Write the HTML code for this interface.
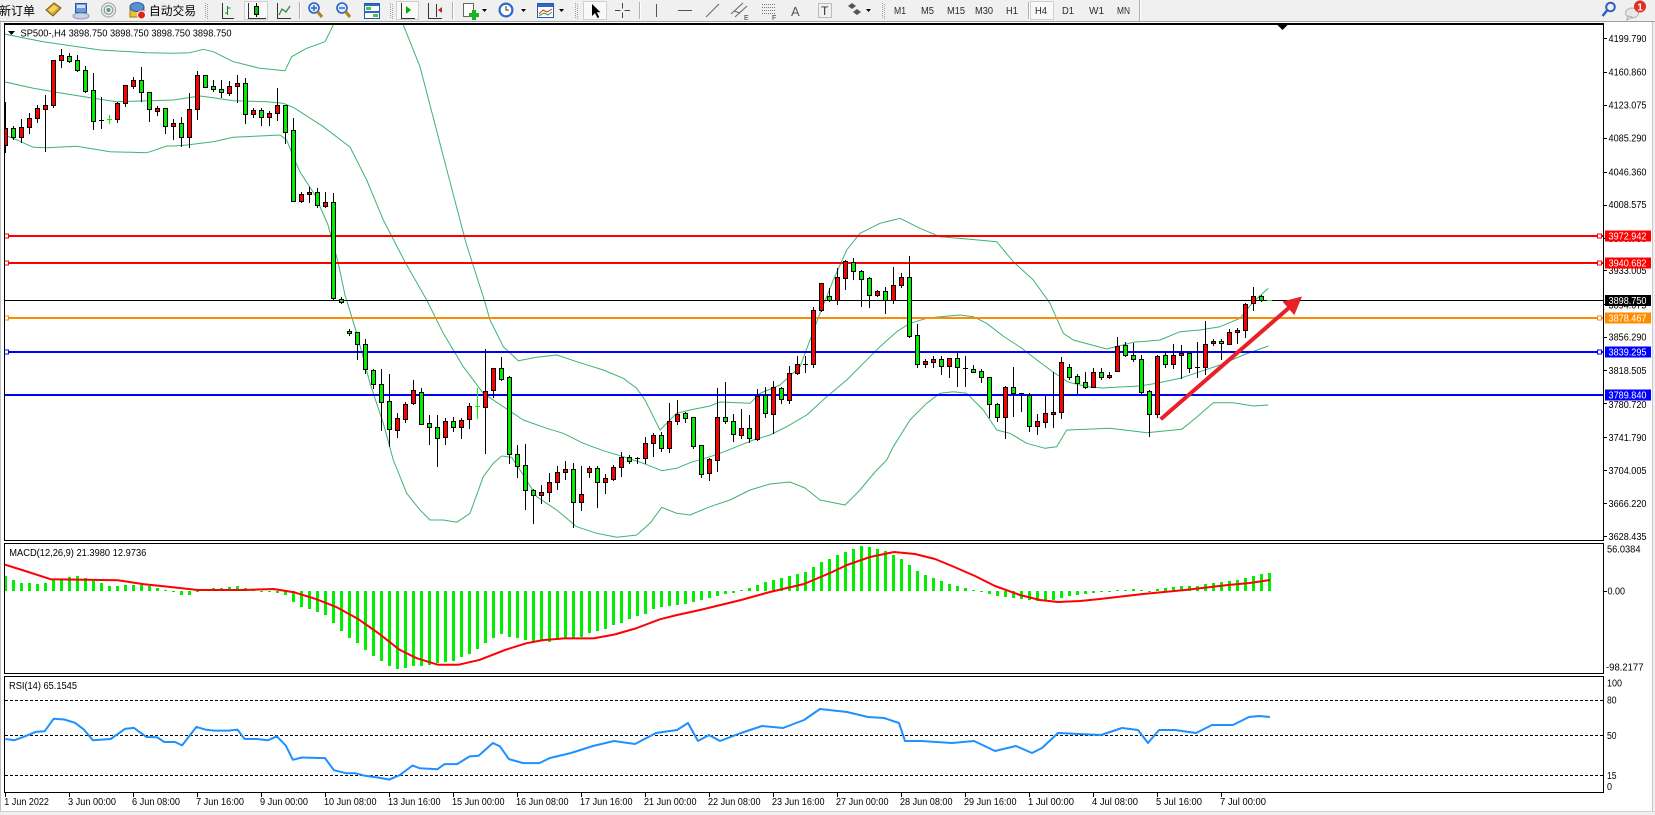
<!DOCTYPE html>
<html><head><meta charset="utf-8">
<style>
html,body{margin:0;padding:0;background:#fff;}
body{width:1655px;height:815px;overflow:hidden;position:relative;font-family:"Liberation Sans","Noto Sans CJK SC",sans-serif;}
svg{position:absolute;left:0;top:0;}
</style></head><body>
<svg id="c" width="1655" height="815" viewBox="0 0 1655 815" xmlns="http://www.w3.org/2000/svg" font-family="Liberation Sans, Noto Sans CJK SC, sans-serif">
<defs>
<clipPath id="cm"><rect x="5" y="25" width="1598" height="515"/></clipPath>
<clipPath id="cd"><rect x="5" y="544" width="1598" height="129"/></clipPath>
<clipPath id="cr"><rect x="5" y="677" width="1598" height="115"/></clipPath>
</defs>
<rect x="0" y="0" width="1655" height="815" fill="#fff"/>

<!-- ============ TOOLBAR ============ -->
<g shape-rendering="crispEdges">
<rect x="0" y="0" width="1655" height="21" fill="#f0f0f0"/>
<rect x="0" y="21" width="1655" height="1" fill="#a0a0a0"/>
</g>
<text x="-1" y="15" font-size="12" fill="#000" font-family="Liberation Sans, Noto Sans CJK SC, sans-serif">新订单</text>
<!-- gold book -->
<polygon points="46,10 54,3 61,8 53,16" fill="#d9a520" stroke="#7a5a10" stroke-width="1"/>
<polygon points="48,10 54,5 58,8 52,13" fill="#f3d36a"/>
<!-- blue people -->
<rect x="75.5" y="3.5" width="11" height="9" fill="#6b9be0" stroke="#2a5a9a"/>
<rect x="77" y="5" width="8" height="3" fill="#cfe0f8"/>
<ellipse cx="81" cy="16" rx="8" ry="3" fill="#c8d4e4" stroke="#8a9ab0"/>
<!-- radio -->
<circle cx="108.5" cy="10" r="7" fill="none" stroke="#a8b0b0" stroke-width="1.3"/>
<circle cx="108.5" cy="10" r="4.3" fill="none" stroke="#90a0a0" stroke-width="1.3"/>
<circle cx="108.5" cy="10" r="2" fill="#5a9a7a"/>
<!-- auto trade -->
<rect x="130" y="8" width="14" height="9" fill="#f0c030" stroke="#a07a10"/>
<ellipse cx="137" cy="7" rx="7" ry="4.5" fill="#5a8fd0" stroke="#2a5a9a"/>
<circle cx="141.5" cy="15" r="4" fill="#e02020" stroke="#fff" stroke-width="1"/>
<text x="149" y="15" font-size="12" fill="#000" textLength="47" lengthAdjust="spacingAndGlyphs">自动交易</text>
<g shape-rendering="crispEdges" stroke="#a0a0a0" stroke-dasharray="1,1">
<line x1="205.5" y1="3" x2="205.5" y2="19"/><line x1="207.5" y1="4" x2="207.5" y2="19"/>
<line x1="390.5" y1="3" x2="390.5" y2="19"/><line x1="392.5" y1="4" x2="392.5" y2="19"/>
<line x1="575.5" y1="3" x2="575.5" y2="19"/><line x1="577.5" y1="4" x2="577.5" y2="19"/>
<line x1="882.5" y1="3" x2="882.5" y2="19"/><line x1="884.5" y1="4" x2="884.5" y2="19"/>
</g>
<g shape-rendering="crispEdges">
<line x1="299.5" y1="2" x2="299.5" y2="19" stroke="#b0b0b0"/><line x1="300.5" y1="2" x2="300.5" y2="19" stroke="#fff"/>
<line x1="452.5" y1="2" x2="452.5" y2="19" stroke="#b0b0b0"/><line x1="453.5" y1="2" x2="453.5" y2="19" stroke="#fff"/>
<line x1="639.5" y1="2" x2="639.5" y2="19" stroke="#b0b0b0"/><line x1="640.5" y1="2" x2="640.5" y2="19" stroke="#fff"/>
<line x1="1028.5" y1="2" x2="1028.5" y2="19" stroke="#b0b0b0"/><line x1="1029.5" y1="2" x2="1029.5" y2="19" stroke="#fff"/>
<line x1="1139.5" y1="0" x2="1139.5" y2="21" stroke="#b0b0b0"/><line x1="1140.5" y1="0" x2="1140.5" y2="21" stroke="#fff"/>
<!-- pressed boxes -->
<rect x="244.5" y="1.5" width="23" height="18" fill="#f9f9f9" stroke="#d0d0d0"/>
<rect x="396.5" y="1.5" width="22" height="18" fill="#f9f9f9" stroke="#d0d0d0"/>
<rect x="583.5" y="1.5" width="23" height="18" fill="#f9f9f9" stroke="#d0d0d0"/>
<rect x="1030.5" y="1.5" width="23" height="18" fill="#f9f9f9" stroke="#d0d0d0"/>
<!-- bar chart icon -->
<path d="M222.5 3V18.5H234" fill="none" stroke="#333"/>
<path d="M227.5 6V15M225 13h2.5M228 8h2.5" fill="none" stroke="#109010"/>
<!-- candle icon -->
<path d="M248.5 3V18.5H266" fill="none" stroke="#333"/>
<line x1="256.5" y1="3" x2="256.5" y2="17" stroke="#000"/>
<rect x="254.5" y="6.5" width="4" height="8" fill="#00c000" stroke="#000"/>
<!-- line icon -->
<path d="M277.5 3V18.5H291" fill="none" stroke="#333"/>
</g>
<polyline points="279,15 282,9 286,12 290,6" fill="none" stroke="#2a8a2a" stroke-width="1.2"/>
<!-- zoom in/out -->
<circle cx="314" cy="8" r="5" fill="#d8ecff" stroke="#2a60c0" stroke-width="1.6"/>
<line x1="317.5" y1="11.5" x2="322" y2="17" stroke="#b08020" stroke-width="3"/>
<path d="M311 8h6M314 5v6" stroke="#2a60c0" stroke-width="1.4"/>
<circle cx="342" cy="8" r="5" fill="#d8ecff" stroke="#2a60c0" stroke-width="1.6"/>
<line x1="345.5" y1="11.5" x2="350" y2="17" stroke="#b08020" stroke-width="3"/>
<path d="M339 8h6" stroke="#2a60c0" stroke-width="1.4"/>
<!-- tile -->
<g shape-rendering="crispEdges">
<rect x="364.5" y="3.5" width="15" height="15" fill="#fff" stroke="#2a5aa8"/>
<rect x="365" y="4" width="7" height="2" fill="#2a6ac8"/><rect x="372" y="4" width="7" height="2" fill="#2a6ac8"/>
<rect x="365" y="11" width="7" height="2" fill="#2a6ac8"/><rect x="372" y="11" width="7" height="2" fill="#2a6ac8"/>
<rect x="366" y="7" width="5" height="3" fill="#50c050"/><rect x="373" y="14" width="5" height="3" fill="#50c050"/>
<!-- shift icons -->
<path d="M401.5 3V18.5H415" fill="none" stroke="#333"/>
<path d="M428.5 3V18.5H442" fill="none" stroke="#333"/>
<line x1="436.5" y1="4" x2="436.5" y2="17" stroke="#333"/>
</g>
<polygon points="406,6 406,14 411,10" fill="#00b000"/>
<polygon points="438,10 442,7 442,13" fill="#d02020"/>
<!-- new chart -->
<rect x="463.5" y="3.5" width="10" height="13" fill="#fff" stroke="#666"/>
<rect x="469" y="13" width="10" height="4" fill="#20b020"/><rect x="472" y="10" width="4" height="10" fill="#20b020"/>
<polygon points="482,9 487,9 484.5,12" fill="#000"/>
<!-- clock -->
<circle cx="506" cy="10" r="7.5" fill="#2a6ac8"/><circle cx="506" cy="10" r="5.3" fill="#fff"/>
<path d="M506 6v4h3" stroke="#333" fill="none"/>
<polygon points="521,9 526,9 523.5,12" fill="#000"/>
<!-- chart window -->
<rect x="537.5" y="3.5" width="16" height="14" fill="#fff" stroke="#2a5aa8"/>
<rect x="538" y="4" width="15" height="3" fill="#2a6ac8"/>
<polyline points="539,14 543,10 547,12 552,9" fill="none" stroke="#d03030"/>
<polyline points="539,16 544,13 548,15 552,12" fill="none" stroke="#30a030"/>
<polygon points="559,9 564,9 561.5,12" fill="#000"/>
<!-- cursor -->
<polygon points="592,4 592,16 595,13 597.5,18 599.3,17.2 596.8,12.3 600.5,12.3" fill="#000"/>
<!-- crosshair -->
<path d="M622.5 3V8.5M622.5 12.5V18M615 10.5h5.5M624.5 10.5H630" stroke="#444" shape-rendering="crispEdges"/>
<path d="M656.5 4V17M678 10.5H692" stroke="#555" shape-rendering="crispEdges"/>
<line x1="706" y1="17" x2="719" y2="4" stroke="#666"/>
<line x1="731" y1="14" x2="743" y2="3" stroke="#666"/><line x1="735" y1="17" x2="747" y2="6" stroke="#666"/>
<line x1="734" y1="11" x2="740" y2="13" stroke="#666"/>
<text x="744" y="20" font-size="7" fill="#333">E</text>
<path d="M762 4.5h14M762 7.5h14M762 10.5h14M762 13.5h14" stroke="#777" stroke-dasharray="1,1" shape-rendering="crispEdges"/>
<text x="772" y="20" font-size="7" fill="#333">F</text>
<text x="791" y="16" font-size="13" fill="#555">A</text>
<rect x="818.5" y="3.5" width="13" height="14" fill="none" stroke="#888" stroke-dasharray="1,1" shape-rendering="crispEdges"/>
<text x="821" y="15" font-size="12" fill="#333">T</text>
<polygon points="848,6 852,3 856,6 852,9" fill="#555"/><polygon points="853,12 857,9 861,12 857,15" fill="#555"/>
<polygon points="866,9 871,9 868.5,12" fill="#000"/>
<g font-size="10" fill="#2a2a2a">
<text x="894" y="14" textLength="12" lengthAdjust="spacingAndGlyphs">M1</text>
<text x="921" y="14" textLength="13" lengthAdjust="spacingAndGlyphs">M5</text>
<text x="947" y="14" textLength="18" lengthAdjust="spacingAndGlyphs">M15</text>
<text x="975" y="14" textLength="18" lengthAdjust="spacingAndGlyphs">M30</text>
<text x="1006" y="14" textLength="12" lengthAdjust="spacingAndGlyphs">H1</text>
<text x="1035" y="14" textLength="12" lengthAdjust="spacingAndGlyphs">H4</text>
<text x="1062" y="14" textLength="12" lengthAdjust="spacingAndGlyphs">D1</text>
<text x="1089" y="14" textLength="15" lengthAdjust="spacingAndGlyphs">W1</text>
<text x="1117" y="14" textLength="13" lengthAdjust="spacingAndGlyphs">MN</text>
</g>
<!-- search -->
<circle cx="1610.5" cy="7" r="4.3" fill="none" stroke="#2a60c8" stroke-width="2"/>
<line x1="1607" y1="10.5" x2="1602.5" y2="16" stroke="#2a60c8" stroke-width="2.5"/>
<!-- chat -->
<ellipse cx="1632" cy="13" rx="6.5" ry="5" fill="#e8e8e8" stroke="#b0b0b0"/>
<polygon points="1628,16 1627,20 1632,17" fill="#e8e8e8" stroke="#b0b0b0"/>
<circle cx="1640" cy="6.5" r="6" fill="#e03020"/>
<text x="1637.3" y="10.5" font-size="10" font-weight="bold" fill="#fff">1</text>

<!-- ============ WINDOW FRAME ============ -->
<g shape-rendering="crispEdges">
<rect x="0" y="22" width="1" height="793" fill="#c0c0c0"/>
<rect x="1652" y="22" width="3" height="793" fill="#f0f0f0"/>
<rect x="1652" y="22" width="1" height="793" fill="#c8c8c8"/>
<rect x="0" y="811" width="1655" height="4" fill="#f0f0f0"/>
<rect x="0" y="811" width="1655" height="1" fill="#d0d0d0"/>
</g>

<!-- ============ MAIN CHART ============ -->
<g clip-path="url(#cm)">
<g fill="none" stroke="#3cb371" stroke-width="1" stroke-linejoin="round">
<polyline points="4,34 43.3,41.7 100,50 146.7,52.7 173.3,53.3 190,52.7 203.3,49.3 213.3,51.7 233.3,61.7 260,68.3 285,70.7 291.7,56.7 306.7,48.3 325,41.7 333.3,25 340,5 368,-40 396,5 403.3,25 420,66.7 444,159 466,243 484.3,300 490,320 503.3,346.7 518.3,360.7 536.7,357.3 556.7,355 576.7,361.7 603.3,370 623.3,378.3 636.7,388.3 645,400 653.3,416.7 660,430 676.7,413.3 690,410 710,406 720,402 750,403.3 760,393.3 780,385 800,366.7 810,340 820,313.3 833.3,280 846.7,250 860,233.3 880,223.3 900,218.3 920,228.3 940,236.7 970,239.3 996.7,241.7 1013.3,261.7 1033.3,280 1050,303.3 1063.3,333.3 1073.3,340 1106.7,349 1133.3,342.3 1160,340 1180,331.7 1200,330 1220,326.7 1240,318.3 1253.3,301.7 1268.3,288.3"/>
<polyline points="4,81.7 33.3,88.3 66.7,94 100,99.3 116.7,101.7 150,100.7 173.3,100 200,96 216.7,98.3 233.3,100.7 266.7,101.7 283.3,103.3 293.3,107.3 323.3,126.7 350,147 366.7,180 383.3,220 405,262 426.7,300 443.3,333.3 463.3,366.7 483.3,393.3 503.3,406.7 523.3,420 546.7,428.3 563.3,433.3 583.3,443.3 603.3,450.7 623.3,456.7 643.3,463.3 661.7,470.7 676.7,468.3 690,462.7 710,456.7 720,453.3 736.7,446.7 753.3,440 770,435 786.7,426.7 806.7,415 826.7,396.7 846.7,380 863.3,363.3 880,346.7 896.7,331.7 910,323.3 926.7,318.3 940,316.7 960,315 973.3,316.7 986.7,323.3 1003,336 1020,347 1037,360 1053,372 1068,382 1087,386.7 1103,388 1120,387 1140,386 1156.7,383.3 1180,378.3 1200,371.7 1220,365 1243.3,355 1268.3,346"/>
<polyline points="4,135 13.3,138.3 33.3,147.3 46.7,147.7 76.7,146.3 110,151.7 146.7,152.7 153.3,150.7 166.7,146 173.3,146 186.7,145 213.3,141.7 233.3,137.3 260,136 280,135 286.7,140 293.3,156.7 300,172 315,195 328,225 338,262 345,295 356.7,333.3 370,383.3 383.3,423.3 393.3,460 406.7,493.3 420,510 430,520 443.3,520 456.7,522.3 470,513.3 483.3,476.7 493.3,463.3 501.7,456 511.7,457.3 523.3,475 536.7,496.7 556.7,510 576.7,526.7 596.7,533.3 616.7,537.3 636.7,535 650,523.3 661.7,507.3 676.7,513.3 690,515 710,506.7 730,500 750,490 770,484 790,482 805,488 820,500 845,505 860,490 875,472 886.7,460 893.3,446.7 910,420 926.7,403.3 940,393.3 953.3,391.7 966.7,393.3 983.3,410 996.7,430 1010,433.3 1026.7,443.3 1045,448.3 1056.7,446.7 1066.7,430 1086.7,429.3 1110,428.3 1146.7,432.7 1181.7,429.3 1193.3,420 1213.3,402.7 1233.3,402.7 1253.3,406 1268.3,405"/>
</g>
<g shape-rendering="crispEdges">
<rect x="4" y="235" width="1600" height="2" fill="#ff0000"/>
<rect x="4" y="262" width="1600" height="2" fill="#ff0000"/>
<rect x="4" y="300" width="1600" height="1" fill="#000"/>
<rect x="4" y="317" width="1600" height="2" fill="#ff8c00"/>
<rect x="4" y="351" width="1600" height="2" fill="#0000ff"/>
<rect x="4" y="394" width="1600" height="2" fill="#0000ff"/>
</g>
<g id="cand" shape-rendering="crispEdges"></g>
<g shape-rendering="crispEdges" fill="#fff" stroke-width="1">
<rect x="4.5" y="234" width="4" height="4" stroke="#ff0000"/>
<rect x="4.5" y="261" width="4" height="4" stroke="#ff0000"/>
<rect x="4.5" y="316" width="4" height="4" stroke="#ff8c00"/>
<rect x="4.5" y="350" width="4" height="4" stroke="#0000ff"/>
<rect x="1597.5" y="234" width="4" height="4" stroke="#ff0000"/>
<rect x="1597.5" y="261" width="4" height="4" stroke="#ff0000"/>
<rect x="1597.5" y="316" width="4" height="4" stroke="#ff8c00"/>
<rect x="1597.5" y="350" width="4" height="4" stroke="#0000ff"/>
</g>
<line x1="1160.7" y1="419.3" x2="1289" y2="307.8" stroke="#e8202a" stroke-width="4"/>
<polygon points="1302,296.5 1294.3,315.1 1282.5,301.5" fill="#e8202a"/>
</g>
<polygon points="1277.5,25 1287.5,25 1282.5,30" fill="#000"/>
<polygon points="8,31 15,31 11.5,35" fill="#000"/>
<text x="20.5" y="36.5" font-size="10.5" fill="#000" textLength="211" lengthAdjust="spacingAndGlyphs">SP500-,H4  3898.750 3898.750 3898.750 3898.750</text>

<!-- ============ MACD ============ -->
<g clip-path="url(#cd)">
<g id="hist" shape-rendering="crispEdges"></g>
<polyline fill="none" stroke="#ff0000" stroke-width="2" stroke-linejoin="round" points="4.2,564.4 25.3,571 50.5,579.2 84.2,579.8 117.8,580.2 143.1,584.1 168.4,586.8 197.8,590 244.1,590 273.6,589 294.6,592.4 315.7,598.9 336.7,607.2 357.7,618.7 378.8,633.5 399.8,649.9 416.7,658.2 437.7,664.7 458.8,664.7 479.8,659.8 505.1,649.9 526.1,643.3 542.9,640.1 564,638.4 593.4,638.4 614.5,634.5 635.5,628.5 659.9,619.3 677,615 700,610 741,600 770,592 804,584 830,573 847,565 870,557 894,552 915,554 935,559 952,566 975,576 995,586 1020,595 1040,600 1058,602 1080,601 1100,599 1143,594 1185,590 1228,585 1250,583 1270,580"/>
</g>
<text x="9.3" y="556" font-size="10" fill="#000" textLength="137" lengthAdjust="spacingAndGlyphs">MACD(12,26,9) 21.3980 12.9736</text>

<!-- ============ RSI ============ -->
<g clip-path="url(#cr)">
<g stroke="#000" stroke-width="1" stroke-dasharray="3,2" shape-rendering="crispEdges">
<line x1="5" y1="700.5" x2="1603" y2="700.5"/>
<line x1="5" y1="735.5" x2="1603" y2="735.5"/>
<line x1="5" y1="775.5" x2="1603" y2="775.5"/>
</g>
<polyline fill="none" stroke="#1e90ff" stroke-width="2" stroke-linejoin="round" points="5.4,739 14.3,740.3 25,736.3 35.7,731.9 44.6,731.3 53.6,718.8 64.3,719.5 75,722.8 83.9,729.6 92.9,740.3 110.7,739 125,728.9 133.9,727.9 146.4,737 157.1,737.3 164.3,742 175,742 182.1,745.4 196.4,726.9 205.4,729.6 214.3,730.6 228.6,730.6 237.5,729.6 244.6,739 257.1,739 267.9,740.3 276.8,736.3 285.7,745.4 292.9,759.8 301.8,757.5 325,758.1 333.9,770.2 346.4,773.3 355.4,773.3 364.3,775.6 378.6,777.6 389.3,779.6 400,774.9 412.5,765.5 419.6,768.2 437.5,769.2 444.6,764.1 457.1,764.1 469.6,756.4 478.6,755.8 492.9,743 500,746.4 508.9,759.1 523.2,763.1 539.3,763.1 550,758 571,753 593,746 614,741 635,744 656,733 677,730 688,723 698,741 709,735 720,741 741,733 762,726 783,728 804,720 820,709 847,712 868,717 884,718 899,723 905,741 921,741 952,743 974,741 995,751 1016,746 1032,753 1042,748 1058,733 1079,734 1101,735 1122,728 1138,730 1148,743 1159,730 1175,730 1196,733 1212,725 1233,725 1249,717 1259,716 1270,717"/>
</g>
<text x="9" y="689" font-size="10" fill="#000" textLength="68" lengthAdjust="spacingAndGlyphs">RSI(14) 65.1545</text>

<!-- ============ PANEL BORDERS ============ -->
<g shape-rendering="crispEdges" fill="none" stroke="#000" stroke-width="1">
<rect x="4.5" y="24.5" width="1599" height="516"/>
<rect x="4.5" y="543.5" width="1599" height="130"/>
<rect x="4.5" y="676.5" width="1599" height="116"/>
</g>
<rect x="4" y="23" width="1600" height="2" fill="#000" shape-rendering="crispEdges"/>

<!-- ============ PRICE AXIS ============ -->
<g shape-rendering="crispEdges" stroke="#000">
<path d="M1604 38.5h3M1604 72.5h3M1604 105.5h3M1604 138.5h3M1604 172.5h3M1604 205.5h3M1604 238.5h3M1604 270.5h3M1604 304.5h3M1604 337.5h3M1604 370.5h3M1604 403.5h3M1604 437.5h3M1604 470.5h3M1604 503.5h3M1604 536.5h3M1604 591.5h3"/>
</g>
<g font-size="10" fill="#000">
<text x="1608.5" y="42" textLength="38" lengthAdjust="spacingAndGlyphs">4199.790</text>
<text x="1608.5" y="75.5" textLength="38" lengthAdjust="spacingAndGlyphs">4160.860</text>
<text x="1608.5" y="108.7" textLength="38" lengthAdjust="spacingAndGlyphs">4123.075</text>
<text x="1608.5" y="141.6" textLength="38" lengthAdjust="spacingAndGlyphs">4085.290</text>
<text x="1608.5" y="175.3" textLength="38" lengthAdjust="spacingAndGlyphs">4046.360</text>
<text x="1608.5" y="208.1" textLength="38" lengthAdjust="spacingAndGlyphs">4008.575</text>
<text x="1608.5" y="242" textLength="38" lengthAdjust="spacingAndGlyphs">3970.790</text>
<text x="1608.5" y="274" textLength="38" lengthAdjust="spacingAndGlyphs">3933.005</text>
<text x="1608.5" y="308.5" textLength="38" lengthAdjust="spacingAndGlyphs">3894.075</text>
<text x="1608.5" y="340.7" textLength="38" lengthAdjust="spacingAndGlyphs">3856.290</text>
<text x="1608.5" y="373.9" textLength="38" lengthAdjust="spacingAndGlyphs">3818.505</text>
<text x="1608.5" y="407.8" textLength="38" lengthAdjust="spacingAndGlyphs">3780.720</text>
<text x="1608.5" y="440.8" textLength="38" lengthAdjust="spacingAndGlyphs">3741.790</text>
<text x="1608.5" y="474" textLength="38" lengthAdjust="spacingAndGlyphs">3704.005</text>
<text x="1608.5" y="506.9" textLength="38" lengthAdjust="spacingAndGlyphs">3666.220</text>
<text x="1608.5" y="540" textLength="38" lengthAdjust="spacingAndGlyphs">3628.435</text>
</g>
<g shape-rendering="crispEdges">
<rect x="1605" y="230.5" width="46" height="11" fill="#ff0000"/>
<rect x="1605" y="257.5" width="46" height="11" fill="#ff0000"/>
<rect x="1605" y="295" width="46" height="11" fill="#000"/>
<rect x="1605" y="312.5" width="46" height="11" fill="#ff8c00"/>
<rect x="1605" y="346.5" width="46" height="11" fill="#0000ff"/>
<rect x="1605" y="389.5" width="46" height="11" fill="#0000ff"/>
</g>
<g font-size="10" fill="#fff">
<text x="1608.5" y="239.7" textLength="38" lengthAdjust="spacingAndGlyphs">3972.942</text>
<text x="1608.5" y="266.7" textLength="38" lengthAdjust="spacingAndGlyphs">3940.682</text>
<text x="1608.5" y="304.2" textLength="38" lengthAdjust="spacingAndGlyphs">3898.750</text>
<text x="1608.5" y="321.7" textLength="38" lengthAdjust="spacingAndGlyphs">3878.467</text>
<text x="1608.5" y="355.7" textLength="38" lengthAdjust="spacingAndGlyphs">3839.295</text>
<text x="1608.5" y="398.7" textLength="38" lengthAdjust="spacingAndGlyphs">3789.840</text>
</g>
<g font-size="10" fill="#000">
<text x="1607" y="552.5" textLength="33.5" lengthAdjust="spacingAndGlyphs">56.0384</text>
<text x="1607.5" y="594.5" textLength="17.5" lengthAdjust="spacingAndGlyphs">0.00</text>
<text x="1606" y="670.5" textLength="37.5" lengthAdjust="spacingAndGlyphs">-98.2177</text>
<text x="1607" y="686.5" textLength="15" lengthAdjust="spacingAndGlyphs">100</text>
<text x="1607" y="703.5" textLength="9.5" lengthAdjust="spacingAndGlyphs">80</text>
<text x="1607" y="739" textLength="9.5" lengthAdjust="spacingAndGlyphs">50</text>
<text x="1607" y="779" textLength="9.5" lengthAdjust="spacingAndGlyphs">15</text>
<text x="1607" y="790.2" textLength="5" lengthAdjust="spacingAndGlyphs">0</text>
</g>

<!-- ============ TIME AXIS ============ -->
<path shape-rendering="crispEdges" stroke="#000" d="M5.5 793v4M69.5 793v4M133.5 793v4M197.5 793v4M261.5 793v4M325.5 793v4M389.5 793v4M453.5 793v4M517.5 793v4M581.5 793v4M645.5 793v4M709.5 793v4M773.5 793v4M837.5 793v4M901.5 793v4M965.5 793v4M1029.5 793v4M1093.5 793v4M1157.5 793v4M1221.5 793v4"/>
<g font-size="10" fill="#000">
<text x="4.3" y="805" textLength="44.6" lengthAdjust="spacingAndGlyphs">1 Jun 2022</text>
<text x="68" y="805" textLength="48" lengthAdjust="spacingAndGlyphs">3 Jun 00:00</text>
<text x="132" y="805" textLength="48" lengthAdjust="spacingAndGlyphs">6 Jun 08:00</text>
<text x="196" y="805" textLength="48" lengthAdjust="spacingAndGlyphs">7 Jun 16:00</text>
<text x="260" y="805" textLength="48" lengthAdjust="spacingAndGlyphs">9 Jun 00:00</text>
<text x="324" y="805" textLength="52.5" lengthAdjust="spacingAndGlyphs">10 Jun 08:00</text>
<text x="388" y="805" textLength="52.5" lengthAdjust="spacingAndGlyphs">13 Jun 16:00</text>
<text x="452" y="805" textLength="52.5" lengthAdjust="spacingAndGlyphs">15 Jun 00:00</text>
<text x="516" y="805" textLength="52.5" lengthAdjust="spacingAndGlyphs">16 Jun 08:00</text>
<text x="580" y="805" textLength="52.5" lengthAdjust="spacingAndGlyphs">17 Jun 16:00</text>
<text x="644" y="805" textLength="52.5" lengthAdjust="spacingAndGlyphs">21 Jun 00:00</text>
<text x="708" y="805" textLength="52.5" lengthAdjust="spacingAndGlyphs">22 Jun 08:00</text>
<text x="772" y="805" textLength="52.5" lengthAdjust="spacingAndGlyphs">23 Jun 16:00</text>
<text x="836" y="805" textLength="52.5" lengthAdjust="spacingAndGlyphs">27 Jun 00:00</text>
<text x="900" y="805" textLength="52.5" lengthAdjust="spacingAndGlyphs">28 Jun 08:00</text>
<text x="964" y="805" textLength="52.5" lengthAdjust="spacingAndGlyphs">29 Jun 16:00</text>
<text x="1028" y="805" textLength="46" lengthAdjust="spacingAndGlyphs">1 Jul 00:00</text>
<text x="1092" y="805" textLength="46" lengthAdjust="spacingAndGlyphs">4 Jul 08:00</text>
<text x="1156" y="805" textLength="46" lengthAdjust="spacingAndGlyphs">5 Jul 16:00</text>
<text x="1220" y="805" textLength="46" lengthAdjust="spacingAndGlyphs">7 Jul 00:00</text>
</g>
</svg>
<script>
(function(){
var NS='http://www.w3.org/2000/svg';
function add(p,tag,a){var e=document.createElementNS(NS,tag);for(var k in a)e.setAttribute(k,a[k]);p.appendChild(e);return e;}
function r(x,y,w,h){return 'M'+x+' '+y+'h'+w+'v'+h+'h'+(-w)+'Z';}
var R=Math.round;
var C=[
[101.7,128.3,145,151.7,'r'],[125.7,128.3,137.3,139.3,'g'],[119,127.3,137.3,141.7,'r'],[113.3,118.3,127.3,133.3,'r'],[105,108.3,118.3,121.7,'r'],
[95,105,109.3,150.7,'r'],[60,60,105,106.7,'r'],[49.3,55,60,66.7,'r'],[53.3,56,60.7,61.7,'g'],[55,60.3,70.3,70.7,'g'],
[66,70.3,90.7,91.7,'g'],[72.7,90.3,121.3,129.3,'g'],[97,120.3,120.3,128,'d'],[115,119,119,122.7,'G'],[101.7,103.3,119.3,122.3,'r'],
[85.3,85.3,103.3,105.7,'r'],[77.3,80.3,86,88.3,'r'],[67,80.3,92.3,100.7,'g'],[92.3,92.3,109.3,120.7,'g'],[106,108.3,110.7,115,'r'],
[108.3,108.3,125.7,133.3,'g'],[119,123.3,125.7,139.3,'r'],[117.3,123.3,137.3,146,'g'],[92.7,109.3,136.7,147.3,'r'],[71,75,109.3,119.3,'r'],
[75,75,86.7,87.3,'g'],[80,86.3,89.3,90.7,'g'],[80,89,92.3,96.7,'g'],[80.7,86.3,92.7,95,'r'],[75,83.3,86.3,101.7,'r'],
[78.3,83.3,114.3,122.7,'g'],[108.3,110,114.3,116.7,'r'],[108.3,110,116.7,125.3,'g'],[111,113.3,116.7,125,'r'],[88.3,105,113.3,120,'r'],
[105,105,131.7,142.7,'g'],[118.3,130,200.7,200.7,'g'],[191.7,194,200.7,201.7,'r'],[187.3,192.3,194.3,201.7,'r'],[188.3,192.3,205,206.7,'g'],
[192.3,202.3,205.7,206.7,'r'],[193.3,201.7,298,300,'g'],[297,299,301.7,303,'g'],[329.3,331,333.3,335,'g'],[332.3,332.3,344.3,359.3,'g'],
[339.3,344,369.3,372.7,'g'],[369.3,370,384,388.3,'g'],[369.3,384.3,401.7,430,'g'],[374,401.3,429.3,446,'g'],[413.3,418.3,430,437.3,'r'],
[401.7,404.3,419.3,421.7,'r'],[380,390,403.3,404,'r'],[388.3,391.7,423.7,424.3,'g'],[415,423.3,427.3,444.3,'g'],[415,427.3,438.3,465.7,'g'],
[418.3,421.3,437.3,444.3,'r'],[416.7,421,427.3,430.7,'g'],[418.3,420,427.3,438.3,'r'],[403.3,406,419.3,428.3,'r'],[388.3,406,406,418.3,'G'],
[349.3,391,406.7,452.7,'r'],[368.3,368.3,390.3,396.7,'r'],[357.3,368.3,378.7,380.3,'g'],[376,377,454.3,462.7,'g'],[445,454.3,465.7,476.7,'g'],
[444,465,490.3,509,'g'],[489.3,490.3,495,523.3,'g'],[485,492.3,495.3,503.3,'r'],[473.3,482.3,492.3,500.7,'r'],[465.7,472.3,482.3,489.3,'r'],
[461,469.3,472.3,479,'r'],[463.3,469.3,502.3,526.7,'g'],[465.7,494,502.3,510,'r'],[466,468.3,471.7,476.7,'r'],[465.7,467.7,481.7,506.7,'g'],
[474,478.3,481.7,492.7,'r'],[465,467.3,479,480,'r'],[451.7,456.7,467.3,475.7,'r'],[455,457.3,460.7,462.7,'g'],[456.7,458.3,458.3,462.7,'d'],
[436.7,443.3,458.3,463.3,'r'],[432.7,435,443.3,456,'r'],[431.7,435,447.7,451,'g'],[403.3,421,447.7,452,'r'],[400,414.3,420.7,424,'r'],
[411.7,413.3,417.7,421.7,'g'],[416.7,416.7,445.7,447.7,'g'],[445.3,445.3,474.3,476.7,'g'],[458.3,459.3,473.3,480,'r'],[387.7,417.3,459.7,471,'r'],
[381.7,417.3,420.7,422.7,'g'],[414.3,421,434.3,440.7,'g'],[409,428.3,435.3,438.3,'r'],[415,428.3,437.7,442.3,'g'],[389.3,396,439,440,'r'],
[386.7,395,413.3,416.7,'g'],[381,387.3,413.7,433.3,'r'],[386.7,388.3,399.3,402.7,'g'],[366,373.3,400,402.7,'r'],[356,364.3,373.3,374,'r'],
[356,364.3,364.3,371.7,'d'],[307.3,310,364.3,366.7,'r'],[283.3,283.3,310,310.7,'r'],[288.3,295.7,300,300.7,'g'],[268.3,277.3,300,304,'r'],
[260,261,277.7,289.3,'r'],[258.3,261.7,271,279,'g'],[270,271,279.3,305.7,'g'],[276.7,278.3,295.3,306.7,'g'],[290,291.3,295.3,296,'r'],
[287.3,291.3,300,312.7,'g'],[267.3,285.3,300,303.3,'r'],[272.7,276.7,285.3,286.7,'r'],[256,277.3,336,337.3,'g'],[324,335.3,364.3,366.7,'g'],
[359.3,361.3,364,367.3,'r'],[356,359.3,361.7,367.3,'r'],[356,359.3,366,374.3,'g'],[358.3,358.3,366,376.7,'r'],[352.7,358.3,367.3,385.7,'g'],
[356,367.7,367.7,385.7,'d'],[365,369.3,371.7,372.3,'g'],[369.3,371,377.3,381.7,'g'],[377.3,377.3,404.3,416.7,'g'],[403.3,404.3,416.7,420.7,'g'],
[386,387.3,416.7,437.7,'r'],[366.7,387.3,393.3,415.7,'g'],[392.7,393.3,393.3,410.7,'d'],[392.7,395,425.7,431,'g'],[414.3,421,425.7,434.3,'r'],
[396,413.3,421.7,427.3,'r'],[372.3,412,414,426.7,'r'],[356.7,362.3,412.3,417.7,'r'],[364,367.3,376.7,379,'g'],[374,376,382.7,392.7,'g'],
[372.3,382.3,386.7,388.3,'g'],[368.3,372.3,386.7,387.3,'r'],[368.3,372.3,377.3,379,'g'],[372.3,375,377.3,377.7,'r'],[336.7,345.7,370.7,370.7,'r'],
[342.3,345.3,355.3,356,'g'],[343.3,355.3,359.3,360.7,'g'],[355,359.3,391.7,392.7,'g'],[390,390.7,414.3,435.7,'g'],[355,356,414.3,417.3,'r'],
[350.7,355.3,364.3,366.7,'g'],[344,355,364.3,367.7,'r'],[345,353.3,355.3,378.3,'r'],[351.7,353.3,368.3,371.7,'g'],[341.7,367.3,367.3,376.7,'d'],
[321,344.3,366.7,374,'r'],[339,341,343.3,345,'r'],[339,341,343.3,359,'g'],[329,332.3,343.7,344.3,'r'],[328.3,330,332.3,343.3,'r'],
[302.7,304.3,330.3,336.7,'r'],[287.3,296,303.3,310,'r'],[295,296,300,301.3,'g'],[300,300,300,300,'F']
];
var wk='',bk='',rd='',gn='',gd='';
for(var i=0;i<C.length;i++){
  var d=C[i],x=3+8*i,wx=5+8*i;
  var wt=R(d[0]),bt=R(d[1]),bb=R(d[2]),wb=R(d[3]),c=d[4];
  if(c==='F'){gd+=r(x,bt,5,1);continue;}
  if(c==='G'){gd+=r(wx,wt,1,wb-wt+1)+r(x,bt,5,1);continue;}
  wk+=r(wx,wt,1,wb-wt+1);
  if(c==='d'){bk+=r(x,bt,5,1);continue;}
  if(bb-bt<2)bb=bt+2;
  bk+=r(x,bt,5,bb-bt+1);
  var ih=bb-bt-1;
  if(ih>0){if(c==='r')rd+=r(x+1,bt+1,3,ih);else gn+=r(x+1,bt+1,3,ih);}
}
var g=document.getElementById('cand');
add(g,'path',{d:wk,fill:'#000'});
add(g,'path',{d:bk,fill:'#000'});
add(g,'path',{d:rd,fill:'#ff0000'});
add(g,'path',{d:gn,fill:'#00ee00'});
add(g,'path',{d:gd,fill:'#00ee00'});
var M=[575.9,580.2,582.5,583.1,584.1,582.5,580.2,578.5,576.9,575.9,577.5,580.8,583.1,585.8,585.8,585.1,585.1,585.1,585.8,588.1,589.7,591.7,594.7,595,592.4,590,588.4,588.1,587.4,586.4,588.4,590,592.4,592.4,593,595,602.2,607.2,608.8,612.1,615.4,623,631.2,638.4,643.3,649.9,655.8,660.5,666.4,668.7,668,666.4,666.4,665.4,663.1,662.4,660.8,657.2,654.2,648.9,643.3,638.4,633.5,636.8,638.4,640.1,641.7,641,641.7,640.1,638.4,637.8,637.4,632.5,631.2,629.2,625.3,622.6,619.3,616,613.7,608.8,
607,606,605,603.5,602,600,598,596,594,592.5,590,588,585,582,580,578,576,574,572,567,562,559,555,552,549,546,547,549,551,555,559,565,571,575,578,581,584,586,588,590,592,594,596,597,598,599,600,601,601,600,598,596,595,594,593,592,592,590,589.5,589,590,592,589,588,587,586,586,586,584,583,582,581,580,578,575.5,573.5,573];
var y0=591,hp='';
for(var j=0;j<M.length;j++){
  var hx=4+8*j,ye=R(M[j]);
  if(ye<y0)hp+=r(hx,ye,3,y0-ye);else if(ye>y0)hp+=r(hx,y0,3,ye-y0);else hp+=r(hx,y0,3,1);
}
add(document.getElementById('hist'),'path',{d:hp,fill:'#00ee00'});
})();
</script>
</body></html>
